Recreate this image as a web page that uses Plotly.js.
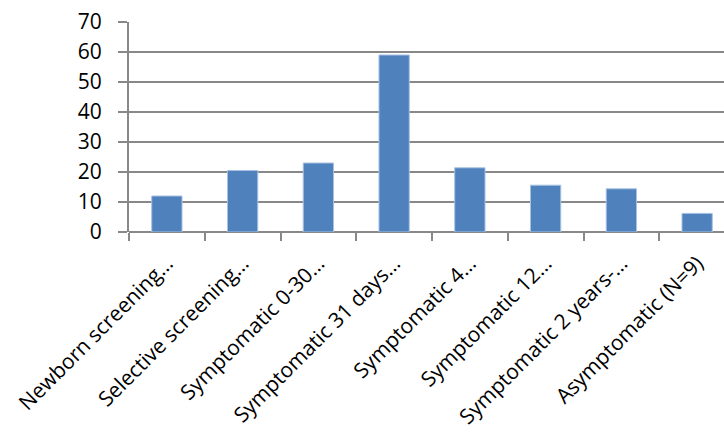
<!DOCTYPE html>
<html>
<head>
<meta charset="utf-8">
<script src="https://cdn.plot.ly/plotly-3.0.1.min.js"></script>
<style>
html,body{margin:0;padding:0;overflow:hidden;background:#fff;}
#chart{width:740px;height:432px;}
</style>
</head>
<body>
<div id="chart"></div>
<script>
var categories = ["Newborn screening…", "Selective screening…", "Symptomatic 0-30…", "Symptomatic 31 days…", "Symptomatic 4…", "Symptomatic 12…", "Symptomatic 2 years-…", "Asymptomatic (N=9)"];
var values = [12, 20.5, 23, 59, 21.4, 15.6, 14.4, 6.2];
var yTicks = [0, 10, 20, 30, 40, 50, 60, 70];

var grid = "#888888";
var yfont = {family: "Open Sans, sans-serif", size: 21, color: "#000"};
var xfont = {family: "Open Sans, sans-serif", size: 21, color: "#000"};

Plotly.newPlot("chart", [{
  type: "bar",
  x: categories,
  y: values,
  marker: {color: "#4F81BD", line: {color: "#A9C1E2", width: 1}},
  hoverinfo: "skip"
}], {
  width: 740,
  height: 432,
  margin: {l: 129, r: 5, t: 22, b: 200},
  paper_bgcolor: "#fff",
  plot_bgcolor: "#fff",
  bargap: 0.6,
  showlegend: false,
  font: yfont,
  xaxis: {
    type: "category",
    tickangle: -45,
    ticks: "outside",
    tickson: "boundaries",
    ticklen: 8,
    tickwidth: 2,
    tickcolor: grid,
    showgrid: false,
    showline: false,
    zeroline: false,
    tickfont: xfont,
    ticklabelstandoff: 14,
    automargin: false
  },
  yaxis: {
    range: [0, 70],
    tickvals: yTicks,
    ticktext: yTicks.map(String),
    ticks: "outside",
    ticklen: 9,
    tickwidth: 2,
    tickcolor: grid,
    showgrid: true,
    gridcolor: grid,
    gridwidth: 2,
    showline: true,
    linecolor: grid,
    linewidth: 2,
    zeroline: true,
    zerolinecolor: grid,
    zerolinewidth: 2,
    tickfont: yfont,
    ticklabelstandoff: 12,
    automargin: false
  }
}, {staticPlot: true, displayModeBar: false});
</script>
</body>
</html>
